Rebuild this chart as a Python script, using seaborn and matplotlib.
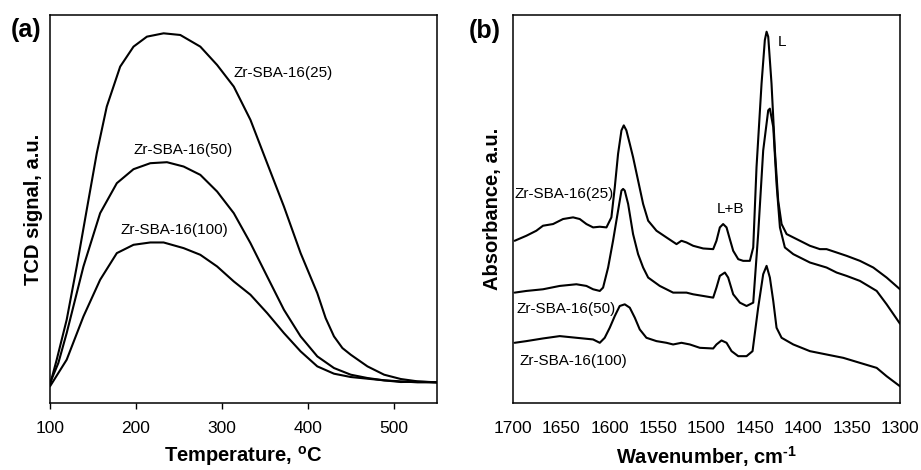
import matplotlib
matplotlib.use("Agg")
import matplotlib.pyplot as plt
import seaborn as sns
import numpy as np

sns.set_theme(style="white")
plt.rcParams['font.family'] = ['Liberation Sans', 'DejaVu Sans']
plt.rcParams['text.color'] = 'black'
plt.rcParams['axes.labelcolor'] = 'black'
plt.rcParams['xtick.color'] = 'black'
plt.rcParams['axes.unicode_minus'] = False
plt.rcParams['mathtext.fontset'] = 'custom'
plt.rcParams['mathtext.rm'] = 'Liberation Sans:bold'
plt.rcParams['mathtext.it'] = 'Liberation Sans:bold'
plt.rcParams['mathtext.bf'] = 'Liberation Sans:bold'

# ---------------- Panel (a): TPD (TCD signal) ----------------
temp_25 = [100, 107.8, 119.4, 131.1, 142.7, 154.4, 166.0, 181.6, 197.1, 212.7, 232.1, 251.5, 274.8,
           294.3, 313.7, 333.1, 352.5, 372.0, 391.4, 410.8, 420.5, 430.2, 440.0, 449.7, 469.1, 488.5,
           507.9, 527.4, 550]
tcd_25 = [55, 130, 250, 410, 580, 750, 890, 1010, 1070, 1100, 1110, 1105, 1070,
          1015, 950, 850, 720, 590, 450, 330, 255, 200, 165, 145, 110, 85,
          72, 65, 62]

temp_50 = [100, 109.7, 119.4, 138.9, 158.3, 177.7, 197.1, 216.6, 236.0, 255.4, 274.8, 294.3, 313.7,
           333.1, 352.5, 372.0, 391.4, 410.8, 430.2, 449.7, 469.1, 488.5, 507.9, 527.4, 550]
tcd_50 = [60, 120, 210, 410, 570, 660, 702, 720, 723, 710, 685, 635, 570,
          480, 380, 280, 200, 140, 105, 85, 75, 68, 65, 62, 62]

temp_100 = [100, 119.4, 138.9, 158.3, 177.7, 197.1, 216.6, 232.1, 255.4, 274.8, 294.3, 313.7,
            333.1, 352.5, 372.0, 391.4, 410.8, 430.2, 449.7, 469.1, 488.5, 507.9, 527.4, 550]
tcd_100 = [50, 130, 260, 370, 450, 475, 482, 482, 465, 445, 410, 365,
           325, 270, 210, 155, 110, 88, 78, 73, 68, 63, 64, 62]

temp_ticks = [100, 200, 300, 400, 500]

# ---------------- Panel (b): FTIR of adsorbed pyridine ----------------
wn_25 = [1698.3, 1686.2, 1675.9, 1669.0, 1658.6, 1648.3, 1637.9, 1631.0, 1624.1, 1617.2, 1610.3, 1603.4,
         1598.3, 1594.8, 1591.4, 1587.9, 1585.5, 1582.8, 1579.3, 1575.9, 1570.7, 1565.5, 1560.3, 1551.7,
         1541.4, 1531.0, 1525.9, 1520.7, 1513.8, 1503.4, 1493.1, 1489.7, 1486.2, 1482.8, 1479.3, 1475.9,
         1472.4, 1467.2, 1462.1, 1455.2, 1451.7, 1448.3, 1443.1, 1439.7, 1437.9, 1436.2, 1432.8, 1429.3,
         1425.9, 1422.4, 1417.2, 1410.3, 1403.4, 1393.1, 1382.8, 1375.9, 1365.5, 1355.2, 1341.4, 1327.6,
         1313.8, 1300]
abs_25 = [485, 500, 515, 530, 535, 550, 555, 550, 535, 525, 527, 525,
          555, 645, 745, 815, 830, 815, 775, 735, 665, 595, 545, 515,
          495, 475, 485, 480, 470, 462, 460, 485, 525, 535, 525, 490,
          455, 430, 425, 425, 465, 705, 955, 1085, 1110, 1095, 955, 755,
          605, 535, 505, 495, 485, 470, 460, 460, 450, 440, 425, 405,
          375, 340]

wn_50 = [1698.3, 1686.2, 1669.0, 1651.7, 1634.5, 1624.1, 1617.2, 1610.3, 1606.9, 1601.7,
         1596.6, 1591.4, 1587.9, 1586.2, 1584.5, 1581.0, 1575.9, 1570.7, 1565.5, 1560.3,
         1548.3, 1534.5, 1520.7, 1513.8, 1503.4, 1493.1, 1489.7, 1486.2, 1481.0, 1477.6,
         1472.4, 1465.5, 1458.6, 1451.7, 1446.6, 1441.4, 1436.2, 1434.5, 1431.0, 1427.6,
         1424.1, 1419.0, 1410.3, 1393.1, 1375.9, 1365.5, 1355.2, 1341.4, 1324.1, 1313.8,
         1300]
abs_50 = [330, 335, 340, 350, 355, 350, 340, 335, 345, 405,
          485, 575, 635, 640, 635, 595, 505, 445, 405, 375,
          350, 330, 330, 325, 320, 315, 345, 380, 390, 375,
          325, 300, 290, 300, 505, 755, 875, 880, 825, 655,
          525, 465, 445, 420, 405, 390, 380, 365, 335, 295,
          237]

wn_100 = [1698.3, 1686.2, 1669.0, 1651.7, 1634.5, 1617.2, 1610.3, 1605.2, 1600.0, 1594.8,
          1589.7, 1584.5, 1579.3, 1574.1, 1569.0, 1562.1, 1551.7, 1541.4, 1534.5, 1525.9,
          1517.2, 1506.9, 1493.1, 1489.7, 1484.5, 1479.3, 1474.1, 1467.2, 1458.6, 1452.4,
          1446.6, 1441.4, 1437.9, 1434.5, 1431.0, 1427.6, 1422.4, 1410.3, 1393.1, 1375.9,
          1358.6, 1341.4, 1324.1, 1313.8, 1300]
abs_100 = [180, 185, 193, 200, 195, 190, 180, 195, 225, 260,
           290, 295, 285, 255, 220, 195, 185, 180, 175, 180,
           175, 165, 163, 175, 187, 180, 155, 140, 140, 155,
           285, 385, 410, 375, 305, 225, 195, 175, 155, 145,
           135, 120, 105, 80, 50]

wn_ticks = [1700, 1650, 1600, 1550, 1500, 1450, 1400, 1350, 1300]

samples = ["Zr-SBA-16(25)", "Zr-SBA-16(50)", "Zr-SBA-16(100)"]

# ---------------- Figure ----------------
fig = plt.figure(figsize=(9.21, 4.70), dpi=100)
W, H = 921, 470
axa = fig.add_axes([50 / W, 1 - 403 / H, 387 / W, 388 / H])
axb = fig.add_axes([513 / W, 1 - 403 / H, 387 / W, 388 / H])

lw = 1.5
for x, y in [(temp_25, tcd_25), (temp_50, tcd_50), (temp_100, tcd_100)]:
    sns.lineplot(x=x, y=y, ax=axa, color="black", linewidth=lw, sort=False, estimator=None)
for x, y in [(wn_25, abs_25), (wn_50, abs_50), (wn_100, abs_100)]:
    sns.lineplot(x=x, y=y, ax=axb, color="black", linewidth=lw, sort=False, estimator=None)

tick_fs = 12.5
lab_fs = 14.5

# Axis settings panel (a)
axa.set_xlim(100, 550)
axa.set_ylim(0, 1165)
axa.set_xticks(temp_ticks)
axa.set_xticklabels([str(t) for t in temp_ticks])
axa.set_yticks([])
axa.tick_params(axis="x", direction="out", length=4, width=1, pad=9, labelsize=tick_fs,
                colors="black", bottom=True)
axa.set_xlabel("Temperature, $^{\\mathrm{o}}$C", fontsize=lab_fs, fontweight="bold", labelpad=6)
axa.set_ylabel("TCD signal, a.u.", fontsize=lab_fs, fontweight="bold", labelpad=5)

# Axis settings panel (b)
axb.set_xlim(1700, 1300)
axb.set_ylim(0, 1160)
axb.set_xticks(wn_ticks)
axb.set_xticklabels([str(t) for t in wn_ticks])
axb.set_yticks([])
axb.tick_params(axis="x", direction="out", length=0, pad=13, labelsize=tick_fs, colors="black")
axb.set_xlabel("Wavenumber, cm$^{\\text{-1}}$", fontsize=lab_fs, fontweight="bold", labelpad=6)
axb.set_ylabel("Absorbance, a.u.", fontsize=lab_fs, fontweight="bold", labelpad=8)

for ax in (axa, axb):
    for sp in ax.spines.values():
        sp.set_visible(True)
        sp.set_color("black")
        sp.set_linewidth(1.1)
    ax.set_facecolor("white")

# Annotations panel (a)
fs_ann = 11
axa.text(313, 990, samples[0], fontsize=fs_ann, va="center", ha="left")
axa.text(196.7, 760, samples[1], fontsize=fs_ann, va="center", ha="left")
axa.text(181.6, 520, samples[2], fontsize=fs_ann, va="center", ha="left")

# Annotations panel (b)
axb.text(1698, 626, samples[0], fontsize=fs_ann, va="center", ha="left")
axb.text(1696, 281, samples[1], fontsize=fs_ann, va="center", ha="left")
axb.text(1693, 125, samples[2], fontsize=fs_ann, va="center", ha="left")
axb.text(1474.7, 581, "L+B", fontsize=fs_ann, va="center", ha="center")
axb.text(1426, 1079, "L", fontsize=fs_ann, va="center", ha="left")

# Panel letters
fig.text(26 / W, 1 - 30 / H, "(a)", fontsize=18, fontweight="bold", ha="center", va="center")
fig.text(485 / W, 1 - 31 / H, "(b)", fontsize=18, fontweight="bold", ha="center", va="center")

fig.savefig("out.png", dpi=100, facecolor="white")
